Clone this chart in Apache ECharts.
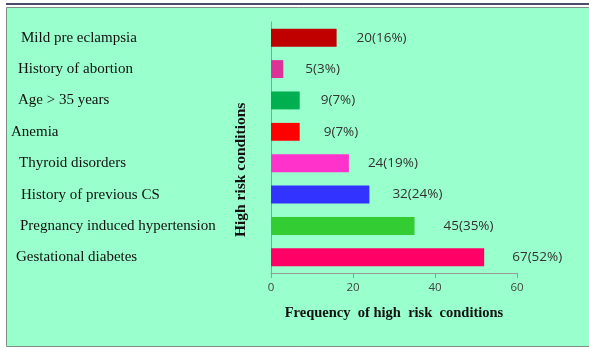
<!DOCTYPE html>
<html>
<head>
<meta charset="utf-8">
<script src="https://cdn.jsdelivr.net/npm/echarts@6/dist/echarts.min.js"></script>
<style>
  html, body { margin: 0; padding: 0; background: #fff; }
  #chart { width: 589px; height: 348px; }
</style>
</head>
<body>
<div id="chart"></div>
<script>
// categories from top to bottom as in the picture
var conditions = [
  "Mild pre eclampsia",
  "History of abortion",
  "Age > 35 years",
  "Anemia",
  "Thyroid disorders",
  "History of previous CS",
  "Pregnancy induced hypertension",
  "Gestational diabetes"
];
var counts = [20, 5, 9, 9, 24, 32, 45, 67];
var percents = [16, 3, 7, 7, 19, 24, 35, 52];
var barColors = ["#C00000", "#DD3399", "#00B050", "#FF0000", "#FF33CC", "#3333FF", "#33CC33", "#FF0066"];
var xTicks = [0, 20, 40, 60];
// labels in the original are not lined up, small left indent for each
var labelIndent = [10, 7, 7, 0, 8, 10, 9, 5];
// gap between bar end and its value label
var valueGap = [20, 22, 21, 24, 19, 23, 29, 28];

var chart = echarts.init(document.getElementById("chart"));

// category axis is drawn bottom-up, so reverse
var cats = conditions.slice().reverse();
var barData = percents.map(function (p, i) {
  return {
    value: p,
    itemStyle: { color: barColors[i] },
    label: { formatter: counts[i] + "(" + p + "%)", distance: valueGap[i] }
  };
}).reverse();

var rich = {};
labelIndent.forEach(function (ind, i) {
  rich["c" + i] = {
    fontFamily: "Liberation Serif",
    fontSize: 15,
    color: "#111",
    padding: [0, 0, 0, ind]
  };
});

var option = {
  backgroundColor: "#ffffff",
  animation: false,
  graphic: [
    { type: "rect", shape: { x: 6, y: 3, width: 583, height: 2 }, style: { fill: "#4b4b6b" }, z: -10 },
    { type: "rect", shape: { x: 6.5, y: 7.5, width: 590, height: 339 },
      style: { fill: "#99FFCC", stroke: "#7d8f86", lineWidth: 1 }, z: -10 },
    { type: "text", rotation: Math.PI / 2,
      style: { text: "High risk conditions", font: "bold 15.5px 'Liberation Serif', serif", fill: "#111" },
      x: 233, y: 237, z: 10 }
  ],
  grid: { left: 271, right: 72, top: 22, bottom: 75, containLabel: false },
  xAxis: {
    type: "value",
    min: 0,
    max: 60,
    interval: 20,
    name: "Frequency  of high  risk  conditions",
    nameLocation: "middle",
    nameGap: 33,
    nameTextStyle: { fontFamily: "Liberation Serif", fontWeight: "bold", fontSize: 14.5, color: "#111" },
    axisLine: { show: true, lineStyle: { color: "#9a9a9a" } },
    axisTick: { show: true, length: 5, lineStyle: { color: "#9a9a9a" } },
    splitLine: { show: false },
    axisLabel: {
      color: "#444",
      fontFamily: "Open Sans",
      fontSize: 11.5,
      margin: 9,
      formatter: function (v) { return xTicks.indexOf(v) >= 0 ? String(v) : ""; }
    }
  },
  yAxis: {
    type: "category",
    data: cats,
    axisLine: { show: true, lineStyle: { color: "#9a9a9a" } },
    axisTick: { show: false },
    axisLabel: {
      align: "left",
      margin: 260,
      formatter: function (v) {
        var i = conditions.indexOf(v);
        return "{c" + i + "|" + v + "}";
      },
      rich: rich
    }
  },
  series: [{
    type: "bar",
    data: barData,
    barCategoryGap: "43%",
    label: {
      show: true,
      position: "right",
      fontFamily: "Open Sans",
      fontSize: 13.5,
      color: "#333"
    }
  }]
};

chart.setOption(option);
</script>
</body>
</html>
